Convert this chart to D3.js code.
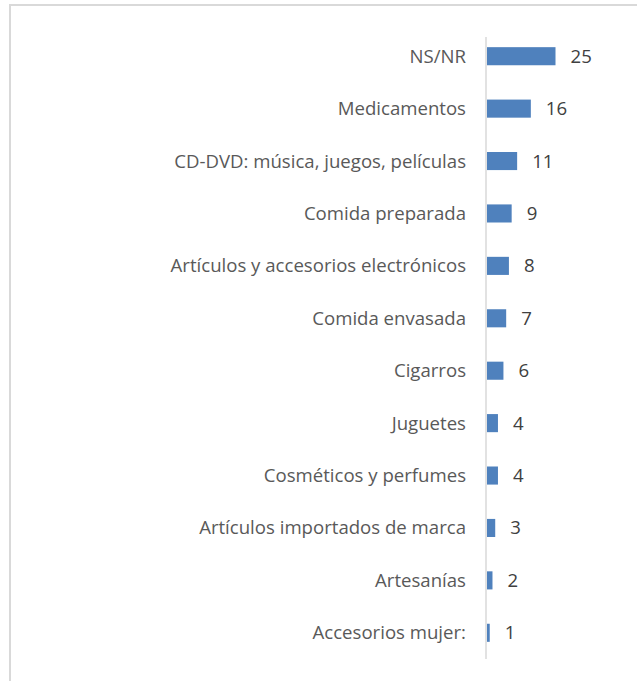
<!DOCTYPE html>
<html>
<head>
<meta charset="utf-8">
<script src="https://cdn.jsdelivr.net/npm/d3@7"></script>
<style>
  html, body { margin: 0; padding: 0; background: #ffffff; }
  svg { display: block; }
</style>
</head>
<body>
<svg id="chart" width="637" height="681"></svg>
<script>
const categories = [
  "NS/NR",
  "Medicamentos",
  "CD-DVD: música, juegos, películas",
  "Comida preparada",
  "Artículos y accesorios electrónicos",
  "Comida envasada",
  "Cigarros",
  "Juguetes",
  "Cosméticos y perfumes",
  "Artículos importados de marca",
  "Artesanías",
  "Accesorios mujer:"
];
const values = [25, 16, 11, 9, 8, 7, 6, 4, 4, 3, 2, 1];

const svg = d3.select("#chart");
const W = 637, H = 681;
const axisX = 486;

// chart border (top and left visible)
svg.append("line").attr("x1", 10).attr("x2", W).attr("y1", 5).attr("y2", 5)
  .attr("stroke", "#d9d9d9").attr("stroke-width", 2);
svg.append("line").attr("x1", 10).attr("x2", 10).attr("y1", 4).attr("y2", H)
  .attr("stroke", "#d9d9d9").attr("stroke-width", 2);

const x = d3.scaleLinear().domain([0, 25]).range([axisX + 1, axisX + 1 + 68.5]);
const y = d3.scaleBand().domain(categories).range([30, 659])
  .paddingInner(0.655).paddingOuter(0.3275);

// axis line
svg.append("line").attr("x1", axisX).attr("x2", axisX)
  .attr("y1", y.range()[0] + 7).attr("y2", y.range()[1])
  .attr("stroke", "#d9d9d9").attr("stroke-width", 1.5);

// bars
svg.selectAll("rect.bar").data(values).join("rect")
  .attr("class", "bar")
  .attr("x", x(0))
  .attr("y", (d, i) => y(categories[i]))
  .attr("width", d => x(d) - x(0))
  .attr("height", y.bandwidth())
  .attr("fill", "#4f81bd");

// category labels
svg.selectAll("text.cat").data(categories).join("text")
  .attr("class", "cat")
  .attr("x", axisX - 20)
  .attr("y", d => y(d) + y.bandwidth() / 2)
  .attr("dy", "0.35em")
  .attr("text-anchor", "end")
  .attr("font-family", "'Open Sans', sans-serif")
  .attr("font-size", 18.6)
  .attr("fill", "#595959")
  .text(d => d);

// value labels
svg.selectAll("text.val").data(values).join("text")
  .attr("class", "val")
  .attr("x", d => x(d) + 15)
  .attr("y", (d, i) => y(categories[i]) + y.bandwidth() / 2)
  .attr("dy", "0.35em")
  .attr("font-family", "'Open Sans', sans-serif")
  .attr("font-size", 18.6)
  .attr("fill", "#404040")
  .text(d => d);
</script>
</body>
</html>
